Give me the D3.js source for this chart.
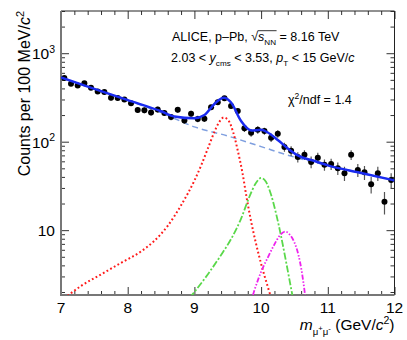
<!DOCTYPE html>
<html>
<head>
<meta charset="utf-8">
<title>Upsilon invariant mass fit, p-Pb 8.16 TeV</title>
<script src="https://cdn.jsdelivr.net/npm/d3@7"></script>
<style>
    body { margin: 0; background: #fff; }
    svg { display: block; font-family: "Liberation Sans", Arial, Helvetica, sans-serif; }
    .axis path { display: none; }
    .axis line { stroke: #333; stroke-width: 1; }
    .tick-lbl { font-size: 15.5px; fill: #000; }
</style>
</head>
<body>
<div id="chart"></div>
<script>
// bin centres (GeV/c^2) and counts per 100 MeV/c^2
var massBins = [7.05, 7.15, 7.25, 7.35, 7.45, 7.55, 7.65, 7.75, 7.85, 7.95,
                8.05, 8.15, 8.25, 8.35, 8.45, 8.55, 8.65, 8.75, 8.85, 8.95,
                9.05, 9.15, 9.25, 9.35, 9.45, 9.55, 9.65, 9.75, 9.85, 9.95,
                10.05, 10.15, 10.25, 10.35, 10.45, 10.55, 10.65, 10.75, 10.85, 10.95,
                11.05, 11.15, 11.25, 11.35, 11.45, 11.55, 11.65, 11.75, 11.85, 11.95];
var counts = [525, 453, 431, 458, 407, 369, 364, 313, 312, 300,
              272, 228, 227, 214, 231, 211, 190, 230, 174, 207,
              181, 182, 245, 279, 310, 253, 222, 142, 126, 136,
              132, 111, 123, 87, 79, 67, 71, 59, 66, 55,
              56, 50, 44, 71, 48, 45, 33, 44, 21, 37];
var countErr = [25, 23, 23, 23, 22, 21, 21, 20, 20, 19,
                18, 17, 17, 16, 17, 16, 15, 17, 15, 16,
                15, 15, 17, 18, 19, 17, 16, 13, 12, 13,
                12, 12, 12, 10, 10, 9, 9, 9, 9, 8,
                8, 8, 8, 9, 8, 8, 7, 8, 6, 7];

// fit curves
var totalMass = [7.0, 7.5, 8.0, 8.5, 8.7, 9.0, 9.15, 9.3, 9.44, 9.55, 9.7, 9.85, 10.0, 10.1, 10.25, 10.4, 10.55, 10.8, 11.0, 11.5, 12.0];
var totalVal  = [532, 395, 295, 221, 193, 184, 200, 267, 314, 277, 171, 134, 136, 127, 104.5, 84, 70, 60.5, 54, 44.3, 36.5];

var bkgMass = [7.0, 7.5, 8.0, 8.5, 9.0, 9.5, 10.0, 10.5, 11.0, 11.5, 12.0];
var bkgVal  = [532, 395, 294, 213, 147, 116, 88, 67, 54, 44.3, 36.5];

var ups1Mass = [7.0, 7.3, 7.6, 7.9, 8.2, 8.4, 8.6, 8.8, 9.0, 9.1, 9.2, 9.3, 9.37, 9.44,
                9.51, 9.58, 9.65, 9.72, 9.78, 9.85, 9.92, 10.0, 10.1, 10.2];
var ups1Val  = [1.58, 2.34, 3.16, 4.27, 5.75, 7.59, 11.2, 19.1, 36.3, 53.7, 83.2, 129, 166, 188,
                174, 129, 79.4, 44.7, 24, 12.6, 7.24, 4.17, 2.29, 1.32];

var ups2Mass = [8.8, 9.0, 9.2, 9.4, 9.55, 9.7, 9.82, 9.92, 10.0, 10.07, 10.15, 10.23, 10.3, 10.37, 10.44, 10.5];
var ups2Val  = [1.32, 2.0, 3.16, 5.25, 7.94, 13.5, 23.4, 33.9, 38.9, 35.5, 25.1, 14.8, 8.5, 4.57, 2.4, 1.38];

var ups3Mass = [9.82, 9.9, 10.0, 10.1, 10.2, 10.28, 10.36, 10.43, 10.5, 10.56, 10.61, 10.65, 10.69];
var ups3Val  = [1.32, 2.09, 3.39, 4.9, 6.92, 8.71, 9.66, 8.91, 7.24, 5.25, 3.39, 2.09, 1.2];

var xMajor = [7, 8, 9, 10, 11, 12];
var yMajor = [10, 100, 1000];
var yMajorExp = ['', '2', '3'];

var width = 407, height = 340;

var svg = d3.select('#chart')
    .append('svg')
    .attr('width', width)
    .attr('height', height);

var x = d3.scaleLinear().domain([7, 12]).range([61, 394.5]);
var y = d3.scaleLog().domain([1.85, 3000]).range([295, 11]);

var plotL = x.range()[0], plotR = x.range()[1];
var plotT = y.range()[1], plotB = y.range()[0];

svg.append('clipPath').attr('id', 'plotclip')
    .append('rect')
    .attr('x', plotL).attr('y', plotT)
    .attr('width', plotR - plotL).attr('height', plotB - plotT);

// ---- ticks (ROOT style, pointing inwards, mirrored on top/right)
var xMinor = x.ticks(25).filter(function(v){ return Math.abs(v - Math.round(v)) > 1e-6; });
var yMinor = y.ticks().filter(function(v){ return yMajor.indexOf(v) < 0; });

function addAxis(axis, tx, ty) {
    svg.append('g')
        .attr('class', 'axis')
        .attr('transform', 'translate(' + tx + ',' + ty + ')')
        .call(axis);
}
addAxis(d3.axisBottom(x).tickValues(xMajor).tickSize(-8).tickFormat(''), 0, plotB);
addAxis(d3.axisBottom(x).tickValues(xMinor).tickSize(-4).tickFormat(''), 0, plotB);
addAxis(d3.axisTop(x).tickValues(xMajor).tickSize(-8).tickFormat(''), 0, plotT);
addAxis(d3.axisTop(x).tickValues(xMinor).tickSize(-4).tickFormat(''), 0, plotT);
addAxis(d3.axisLeft(y).tickValues(yMajor).tickSize(-8).tickFormat(''), plotL, 0);
addAxis(d3.axisLeft(y).tickValues(yMinor).tickSize(-4).tickFormat(''), plotL, 0);
addAxis(d3.axisRight(y).tickValues(yMajor).tickSize(-8).tickFormat(''), plotR, 0);
addAxis(d3.axisRight(y).tickValues(yMinor).tickSize(-4).tickFormat(''), plotR, 0);

// frame
svg.append('line').attr('x1', plotL).attr('x2', plotR).attr('y1', plotT).attr('y2', plotT)
    .attr('stroke', '#222').attr('stroke-width', 1);
svg.append('line').attr('x1', plotR).attr('x2', plotR).attr('y1', plotT).attr('y2', plotB)
    .attr('stroke', '#222').attr('stroke-width', 1);
svg.append('line').attr('x1', plotL).attr('x2', plotL).attr('y1', plotT).attr('y2', plotB + 1)
    .attr('stroke', '#777').attr('stroke-width', 2);
svg.append('line').attr('x1', plotL - 1).attr('x2', plotR).attr('y1', plotB).attr('y2', plotB)
    .attr('stroke', '#777').attr('stroke-width', 2);

// tick labels
svg.selectAll('.xlbl')
    .data(xMajor)
    .enter()
    .append('text')
    .attr('class', 'tick-lbl')
    .attr('x', function(d){ return x(d); })
    .attr('y', plotB + 17.5)
    .attr('text-anchor', 'middle')
    .text(function(d){ return d; });

yMajor.forEach(function(v, i){
    var t = svg.append('text')
        .attr('class', 'tick-lbl')
        .attr('x', plotL - 6)
        .attr('y', y(v) + 6)
        .attr('text-anchor', 'end');
    t.append('tspan').text('10');
    if (yMajorExp[i]) {
        t.append('tspan').attr('dy', -6.5).style('font-size', '10.5px').text(yMajorExp[i]);
    }
});

// ---- rich text helper: parts have t (text), lv (baseline shift, em), sc (font scale), it (italic)
function rich(xPos, yPos, size, parts, anchor, transform) {
    var t = svg.append('text')
        .attr('x', xPos).attr('y', yPos)
        .attr('text-anchor', anchor || 'start')
        .style('font-size', size + 'px');
    if (transform) t.attr('transform', transform);
    var shift = 0;
    parts.forEach(function(p){
        var lv = (p.lv || 0) * size;
        var s = t.append('tspan').attr('dy', lv - shift).text(p.t);
        if (p.sc) s.style('font-size', (size * p.sc) + 'px');
        if (p.it) s.style('font-style', 'italic');
        shift = lv;
    });
    return t;
}

// axis titles
rich(0, 0, 16, [
    {t: 'Counts per 100 MeV/'}, {t: 'c', it: 1}, {t: '2', lv: -0.4, sc: 0.68}
], 'end', 'translate(30,11) rotate(-90)');

rich(plotR, 330, 15.5, [
    {t: 'm', it: 1}, {t: 'μ', lv: 0.3, sc: 0.62}, {t: '+', lv: 0.05, sc: 0.5},
    {t: 'μ', lv: 0.3, sc: 0.62}, {t: '-', lv: 0.05, sc: 0.5},
    {t: ' (GeV/'}, {t: 'c', it: 1}, {t: '2', lv: -0.4, sc: 0.68}, {t: ')'}
], 'end');

// annotations
var l1 = rich(172, 41, 12.5, [
    {t: 'ALICE, p–Pb, '}, {t: '√'}, {t: 's', it: 1}, {t: 'NN', lv: 0.3, sc: 0.65}, {t: ' = 8.16 TeV'}
]);
var n1 = l1.node();
var ovX1 = n1.getEndPositionOfChar(13).x, ovX2 = n1.getEndPositionOfChar(16).x;
svg.append('line')
    .attr('x1', ovX1 - 0.5).attr('x2', ovX2 + 0.5)
    .attr('y1', 41 - 10.3).attr('y2', 41 - 10.3)
    .attr('stroke', '#000').attr('stroke-width', 0.8);

rich(171, 62, 12.5, [
    {t: '2.03 < '}, {t: 'y', it: 1}, {t: 'cms', lv: 0.3, sc: 0.65}, {t: ' < 3.53, '},
    {t: 'p', it: 1}, {t: 'T', lv: 0.3, sc: 0.65}, {t: ' < 15 GeV/'}, {t: 'c', it: 1}
]);

rich(288, 104, 12.5, [
    {t: 'χ'}, {t: '2', lv: -0.4, sc: 0.68}, {t: '/ndf = 1.4'}
]);

// ---- curves
function zip(ms, vs) { return ms.map(function(m, i){ return [m, vs[i]]; }); }

var line = d3.line()
    .x(function(d){ return x(d[0]); })
    .y(function(d){ return y(d[1]); })
    .curve(d3.curveMonotoneX);

var plot = svg.append('g').attr('clip-path', 'url(#plotclip)');

plot.append('path').datum(zip(bkgMass, bkgVal))
    .attr('d', line).attr('fill', 'none')
    .attr('stroke', '#7f9fdf').attr('stroke-width', 1.5).attr('stroke-dasharray', '6,4');

plot.append('path').datum(zip(ups1Mass, ups1Val))
    .attr('d', line).attr('fill', 'none')
    .attr('stroke', '#ff1a1a').attr('stroke-width', 2).attr('stroke-dasharray', '1.8,2.4');

plot.append('path').datum(zip(ups2Mass, ups2Val))
    .attr('d', line).attr('fill', 'none')
    .attr('stroke', '#5ad84a').attr('stroke-width', 1.8).attr('stroke-dasharray', '7,2,2,2');

plot.append('path').datum(zip(ups3Mass, ups3Val))
    .attr('d', line).attr('fill', 'none')
    .attr('stroke', '#ee22ee').attr('stroke-width', 1.8).attr('stroke-dasharray', '5,1.8,1.5,1.8,1.5,1.8');

// data points with vertical error bars
var pts = plot.selectAll('.pt')
    .data(massBins.map(function(m, i){ return {m: m, v: counts[i], e: countErr[i]}; }))
    .enter()
    .append('g')
    .attr('class', 'pt');

pts.append('line')
    .attr('x1', function(d){ return x(d.m); })
    .attr('x2', function(d){ return x(d.m); })
    .attr('y1', function(d){ return y(d.v + d.e); })
    .attr('y2', function(d){ return y(d.v - d.e); })
    .attr('stroke', '#555').attr('stroke-width', 1.2);

plot.append('path').datum(zip(totalMass, totalVal))
    .attr('d', line).attr('fill', 'none')
    .attr('stroke', '#1a2bf0').attr('stroke-width', 2.5);

pts.append('circle')
    .attr('cx', function(d){ return x(d.m); })
    .attr('cy', function(d){ return y(d.v); })
    .attr('r', 3)
    .attr('fill', '#000');
</script>
</body>
</html>
